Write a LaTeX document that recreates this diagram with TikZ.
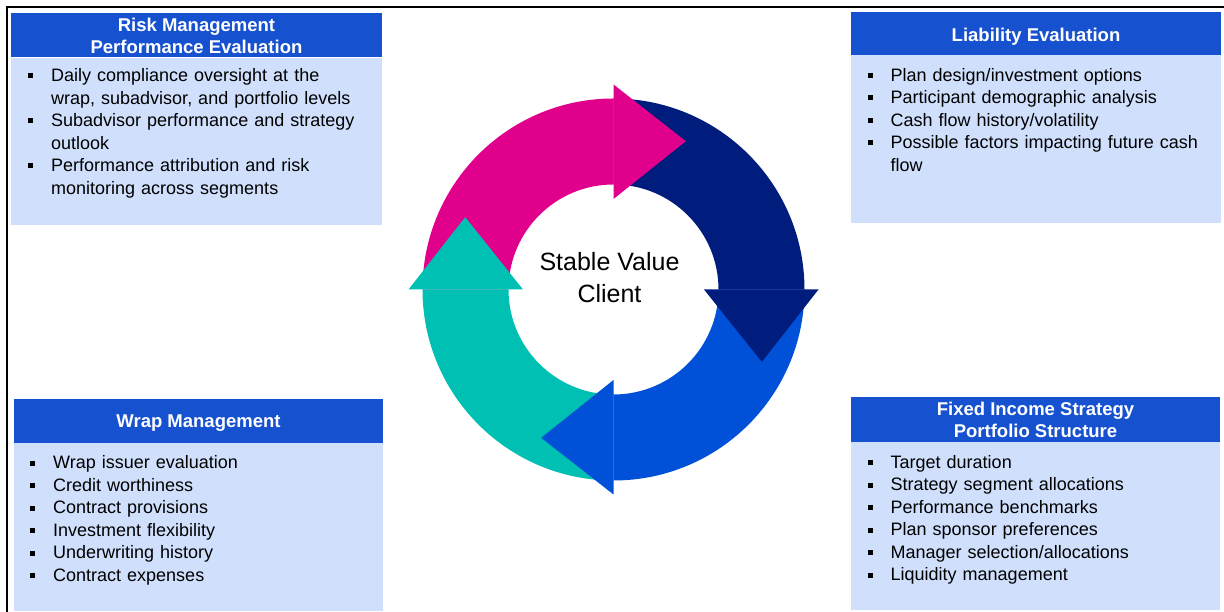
\documentclass[tikz,border=0pt]{standalone}
\usepackage{fontspec}
\setmainfont{Liberation Sans}
\usepackage{enumitem}
\setlist[itemize]{nosep,label={\strut\rule[3.3pt]{5pt}{5pt}},leftmargin=23pt,labelwidth=5pt,labelsep=18pt,align=left}

\definecolor{headblue}{RGB}{22,81,208}
\definecolor{paleblue}{RGB}{208,224,252}
\definecolor{ringpink}{RGB}{224,0,140}
\definecolor{ringnavy}{RGB}{0,28,124}
\definecolor{ringblue}{RGB}{0,80,216}
\definecolor{ringteal}{RGB}{0,192,180}

\begin{document}
\begin{tikzpicture}[x=1pt,y=1pt,
  head/.style={fill=headblue,text=white,font=\bfseries\fontsize{18.5}{22}\selectfont,align=center,inner sep=0pt},
  panel/.style={fill=paleblue,inner sep=0pt,anchor=north},
  items/.style={anchor=north west,inner sep=0pt,text width=345pt,font=\fontsize{18}{22.5}\selectfont}]
  \useasboundingbox (0,0) rectangle (1224,612);
  % frame on top and left
  \draw[line width=2pt] (7,0) -- (7,605) -- (1224,605);

  % risk management
  \node[head,minimum width=371pt,minimum height=44pt] (riskhead) at (196.5,576.5) {Risk Management\\Performance Evaluation};
  \node[panel,minimum width=371pt,minimum height=167pt] (riskpanel) at (riskhead.south) {};
  \node[items] (risklist) at (28,553) {\begin{itemize}\raggedright
    \item Daily compliance oversight at the\newline wrap, subadvisor, and portfolio levels
    \item Subadvisor performance and strategy\newline outlook
    \item Performance attribution and risk\newline monitoring across segments
  \end{itemize}};

  % liability evaluation
  \node[head,minimum width=370pt,minimum height=43pt] (liabhead) at (1036,578.5) {};
  \node[panel,minimum width=370pt,minimum height=168pt] (liabpanel) at (liabhead.south) {};
  \node[head] (liabtitle) at (1036,575.5) {Liability Evaluation};
  \node[items] (liablist) at (867.5,553.5) {\begin{itemize}\raggedright
    \item Plan design/investment options
    \item Participant demographic analysis
    \item Cash flow history/volatility
    \item Possible factors impacting future cash\newline flow
  \end{itemize}};

  % wrap management
  \node[head,minimum width=369pt,minimum height=44pt] (wraphead) at (198.5,191) {};
  \node[panel,minimum width=369pt,minimum height=168pt] (wrappanel) at (wraphead.south) {};
  \node[head] (wraptitle) at (198.5,188.5) {Wrap Management};
  \node[items] (wraplist) at (30,165.75) {\begin{itemize}\raggedright
    \item Wrap issuer evaluation
    \item Credit worthiness
    \item Contract provisions
    \item Investment flexibility
    \item Underwriting history
    \item Contract expenses
  \end{itemize}};

  % fixed income strategy
  \node[head,minimum width=369pt,minimum height=45pt] (fixedhead) at (1035.5,192.5) {Fixed Income Strategy\\Portfolio Structure};
  \node[panel,minimum width=369pt,minimum height=168pt] (fixedpanel) at (fixedhead.south) {};
  \node[items] (fixedlist) at (867.5,166.25) {\begin{itemize}\raggedright
    \item Target duration
    \item Strategy segment allocations
    \item Performance benchmarks
    \item Plan sponsor preferences
    \item Manager selection/allocations
    \item Liquidity management
  \end{itemize}};

  % cycle of four arrows round the client
  \begin{scope}[shift={(613.5,322.5)}]
    \foreach \a/\c in {180/ringpink,90/ringnavy,0/ringblue,-90/ringteal}
      \fill[\c] (\a:191) arc[start angle=\a,end angle=\a-90,radius=191]
        -- (\a-90:105) arc[start angle=\a-90,end angle=\a,radius=105] -- cycle;
    \foreach \a/\c in {180/ringpink,90/ringnavy,0/ringblue,-90/ringteal}
      \fill[\c] (\a-90:205) -- (\a-116:165) -- (\a-90:90.5) -- cycle;
  \end{scope}
  \node[font=\fontsize{25}{32}\selectfont,align=center,inner sep=0pt] (client) at (609.5,334.5) {Stable Value\\Client};
\end{tikzpicture}
\end{document}
